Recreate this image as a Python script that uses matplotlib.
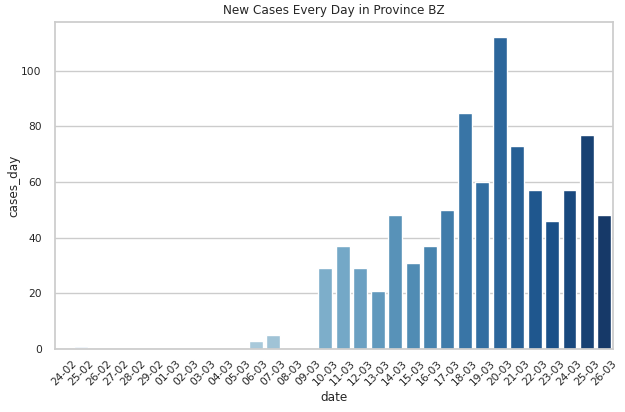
import matplotlib
matplotlib.use("Agg")
import matplotlib.pyplot as plt
import seaborn as sns
import pandas as pd

dates = ['24-02', '25-02', '26-02', '27-02', '28-02', '29-02',
         '01-03', '02-03', '03-03', '04-03', '05-03', '06-03', '07-03', '08-03', '09-03',
         '10-03', '11-03', '12-03', '13-03', '14-03', '15-03', '16-03', '17-03', '18-03',
         '19-03', '20-03', '21-03', '22-03', '23-03', '24-03', '25-03', '26-03']
cases_day = [0, 1, 0, 0, 0, 0,
             0, 0, 0, 0, 0, 3, 5, 0, 0,
             29, 37, 29, 21, 48, 31, 37, 50, 85,
             60, 112, 73, 57, 46, 57, 77, 48]

df = pd.DataFrame({'date': dates, 'cases_day': cases_day})

sns.set_theme(style="whitegrid")
fig, ax = plt.subplots(figsize=(6.25, 4.12), dpi=100)
fig.subplots_adjust(left=0.088, right=0.981, top=0.947, bottom=0.153)

sns.barplot(data=df, x='date', y='cases_day', hue='date', palette='Blues', legend=False, ax=ax)

ax.set_title('New Cases Every Day in Province BZ', fontsize=8.65)
ax.set_xlabel('date', fontsize=8.65, labelpad=2)
ax.set_ylabel('cases_day', fontsize=8.65)
ax.yaxis.set_label_coords(-0.062, 0.5)
ax.tick_params(axis='x', labelsize=7.7, rotation=45, pad=1)
ax.tick_params(axis='y', labelsize=7.7)
for lbl in ax.get_xticklabels():
    lbl.set_ha('center')

fig.savefig('out.png', dpi=100)
